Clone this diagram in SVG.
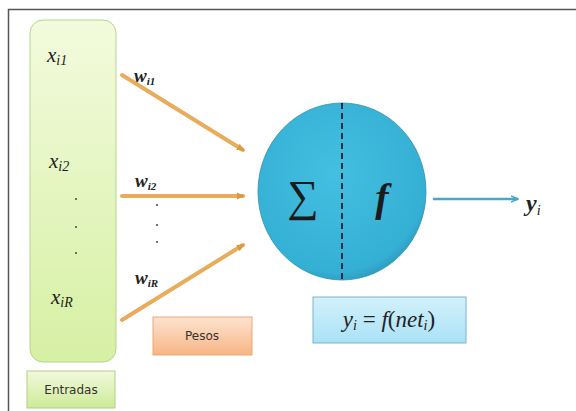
<svg xmlns="http://www.w3.org/2000/svg" width="576" height="411" viewBox="0 0 576 411">
<defs>
<linearGradient id="gGreen" x1="0" y1="0" x2="0" y2="1"><stop offset="0" stop-color="#f3fbdd"/><stop offset="1" stop-color="#d6f0a4"/></linearGradient>
<linearGradient id="gGreen2" x1="0" y1="0" x2="0" y2="1"><stop offset="0" stop-color="#f1f9dc"/><stop offset="1" stop-color="#cdeb98"/></linearGradient>
<linearGradient id="gOrange" x1="0" y1="0" x2="0" y2="1"><stop offset="0" stop-color="#fde3cf"/><stop offset="1" stop-color="#f7b585"/></linearGradient>
<linearGradient id="gBlue" x1="0" y1="0" x2="0" y2="1"><stop offset="0" stop-color="#d3f1fb"/><stop offset="1" stop-color="#a9e2f6"/></linearGradient>
<radialGradient id="gCirc" cx="0.45" cy="0.4" r="0.65"><stop offset="0" stop-color="#43bfe0"/><stop offset="0.85" stop-color="#35b0d5"/><stop offset="1" stop-color="#2a93b5"/></radialGradient>
<marker id="ah" markerWidth="8" markerHeight="8" refX="6" refY="4" orient="auto" markerUnits="userSpaceOnUse"><path d="M0,0.5 L8,4 L0,7.5 z" fill="#d99a40"/></marker>
<marker id="ahb" markerWidth="8" markerHeight="8" refX="7" refY="4" orient="auto" markerUnits="userSpaceOnUse"><path d="M0,1 L7,4 L0,7" fill="none" stroke="#4aa6c8" stroke-width="1.5"/></marker>
</defs>
<style>
.math{font-family:"Liberation Serif","DejaVu Serif",serif;font-style:italic;fill:#222}
.lbl{font-family:"DejaVu Sans","Liberation Sans",sans-serif;font-size:12px;fill:#333}
.arr{stroke:#e8ac5a;stroke-width:4;stroke-linecap:round;fill:none}
.dot{fill:#444}
</style>
<rect x="8.5" y="9.5" width="580" height="410" fill="#fff" stroke="#555" stroke-width="1.5"/>

<g id="entradas-col">
<rect x="30" y="20" width="86" height="342" rx="13" fill="url(#gGreen)" stroke="#b8d48a" stroke-width="1"/>
<text class="math" x="47" y="62" font-size="21">x<tspan font-size="14" dy="3">i1</tspan></text>
<text class="math" x="49" y="168" font-size="21">x<tspan font-size="14" dy="3">i2</tspan></text>
<circle class="dot" cx="76" cy="199" r="1"/>
<circle class="dot" cx="76" cy="227" r="1"/>
<circle class="dot" cx="76" cy="253" r="1"/>
<text class="math" x="51" y="304" font-size="21">x<tspan font-size="14" dy="3">iR</tspan></text>
</g>

<g id="entradas-label">
<rect x="27" y="371" width="88" height="37" fill="url(#gGreen2)" stroke="#b0cf86" stroke-width="1"/>
<text class="lbl" x="71" y="394" text-anchor="middle">Entradas</text>
</g>

<g id="connectors">
<line class="arr" x1="122" y1="75" x2="243" y2="150" marker-end="url(#ah)"/>
<line class="arr" x1="122" y1="196" x2="243" y2="196" marker-end="url(#ah)"/>
<line class="arr" x1="122" y1="320" x2="243" y2="245" marker-end="url(#ah)"/>
<line x1="433" y1="199" x2="518" y2="199" stroke="#4aa6c8" stroke-width="2.5" marker-end="url(#ahb)"/>
</g>

<g id="pesos-labels">
<text class="math" x="134" y="82" font-size="19" font-weight="bold">w<tspan font-size="11" dy="3">i1</tspan></text>
<text class="math" x="135" y="187" font-size="19" font-weight="bold">w<tspan font-size="11" dy="3">i2</tspan></text>
<circle class="dot" cx="157" cy="205" r="1"/>
<circle class="dot" cx="157" cy="225" r="1"/>
<circle class="dot" cx="157" cy="242" r="1"/>
<text class="math" x="135" y="284" font-size="19" font-weight="bold">w<tspan font-size="11" dy="3">iR</tspan></text>
</g>

<g id="pesos">
<rect x="153" y="317" width="99" height="38" fill="url(#gOrange)" stroke="#e9a874" stroke-width="1"/>
<text class="lbl" x="202" y="340" text-anchor="middle">Pesos</text>
</g>

<g id="neuron">
<ellipse cx="342" cy="191.5" rx="84" ry="88.5" fill="url(#gCirc)" stroke="#2d8fb0" stroke-width="0.8"/>
<line x1="342" y1="103" x2="342" y2="280" stroke="#0d2a44" stroke-width="2" stroke-dasharray="6,4"/>
<text x="303" y="211" font-family="Liberation Serif,serif" font-size="44" fill="#1b1b1b" text-anchor="middle">∑</text>
<text x="382" y="211" font-family="Liberation Serif,serif" font-style="italic" font-weight="bold" font-size="40" fill="#1b1b1b" text-anchor="middle">f</text>
</g>

<g id="output">
<text class="math" x="526" y="211" font-size="24" font-weight="bold">y<tspan font-size="14" dy="4" font-weight="normal">i</tspan></text>
</g>

<g id="formula">
<rect x="313" y="297" width="153" height="46" fill="url(#gBlue)" stroke="#7fb3cc" stroke-width="1"/>
<text class="math" x="389" y="327" font-size="23" text-anchor="middle">y<tspan font-size="14" dy="3">i</tspan><tspan dy="-3" font-style="normal"> = </tspan>f<tspan font-style="normal">(</tspan>net<tspan font-size="14" dy="3">i</tspan><tspan dy="-3" font-style="normal">)</tspan></text>
</g>
</svg>
